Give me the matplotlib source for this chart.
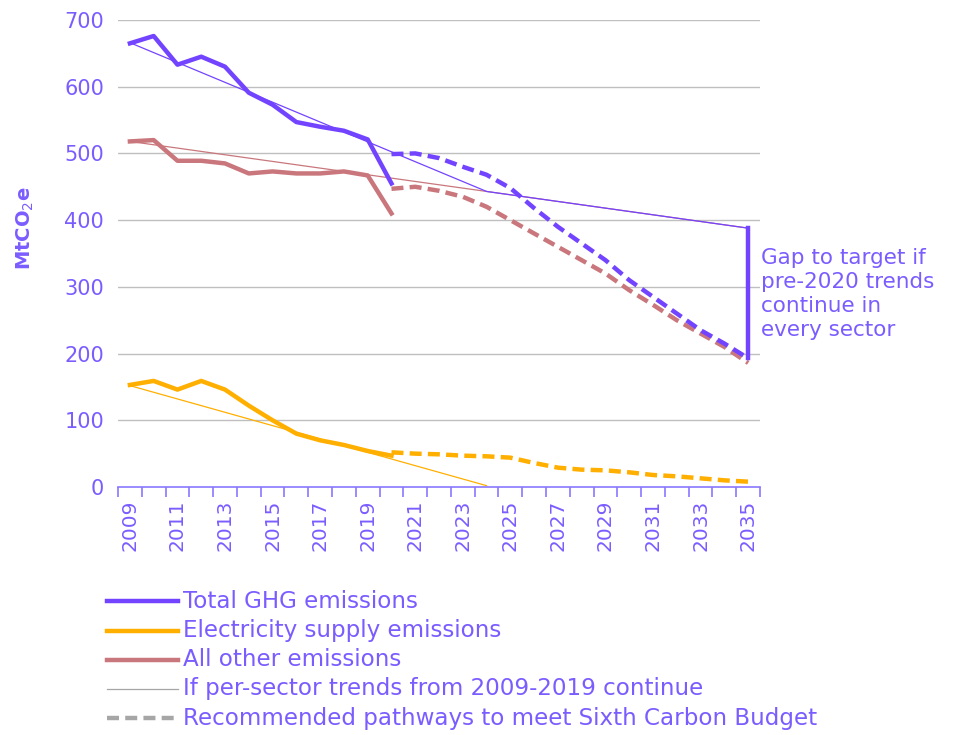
import matplotlib.pyplot as plt
from matplotlib.lines import Line2D
import numpy as np

plt.rcParams['font.family'] = ['DejaVu Sans']

# colours
purple = '#7344FF'
text_purple = '#7B5CFF'
orange = '#FFAF00'
pink = '#C9777C'
grey = '#A6A6A6'

# historic emissions (MtCO2e)
hist_years = list(range(2009, 2021))
total_hist = [665, 676, 633, 645, 630, 591, 573, 547, 540, 534, 521, 455]
elec_hist = [153, 159, 146, 159, 146, 122, 100, 80, 70, 63, 54, 47]
other_hist = [518, 520, 489, 489, 485, 470, 473, 470, 470, 473, 467, 410]

# recommended pathways
path_years = list(range(2020, 2036))
total_path = [499, 500, 493, 480, 468, 448, 418, 390, 365, 340, 310, 285, 260, 235, 215, 193]
elec_path = [52, 50, 49, 47, 46, 44, 36, 29, 26, 25, 22, 18, 16, 13, 10, 8]
other_path = [447, 450, 444, 435, 420, 400, 380, 360, 340, 320, 295, 273, 250, 230, 210, 186]

# per-sector trend lines (knots)
trend_years = [2009, 2024, 2035]
total_trend = [666, 443, 388]
elec_trend_years = [2009, 2024]
elec_trend = [152, 2]
other_trend = [518, 443, 388]

fig = plt.figure(figsize=(9.54, 7.35), dpi=100)
ax = fig.add_axes([0.1237, 0.3374, 0.673, 0.6354])

# gridlines
for v in range(100, 701, 100):
    ax.axhline(v, color='#BFBFBF', lw=1.0, zorder=0)

# trends
ax.plot(trend_years, other_trend, color=pink, lw=0.9, zorder=2)
ax.plot(elec_trend_years, elec_trend, color=orange, lw=0.9, zorder=2)
ax.plot(trend_years, total_trend, color=purple, lw=0.9, zorder=2)

# historic
ax.plot(hist_years, other_hist, color=pink, lw=3.2, zorder=3)
ax.plot(hist_years, elec_hist, color=orange, lw=3.2, zorder=3)
ax.plot(hist_years, total_hist, color=purple, lw=3.2, zorder=3)

# pathways
ax.plot(path_years, other_path, color=pink, lw=3.2, dashes=(2.7, 1.4), zorder=3)
ax.plot(path_years, elec_path, color=orange, lw=3.2, dashes=(2.7, 1.4), zorder=3)
ax.plot(path_years, total_path, color=purple, lw=3.2, dashes=(2.7, 1.4), zorder=3)

# gap bar
ax.plot([2035, 2035], [total_trend[-1], total_path[-1]], color=purple, lw=3.2, zorder=4)
ax.text(2035.55, 289, 'Gap to target if\npre-2020 trends\ncontinue in\nevery sector',
        color=text_purple, fontsize=15.5, va='center', ha='left', linespacing=1.25,
        clip_on=False)

ax.set_xlim(2008.5, 2035.5)
ax.set_ylim(0, 700)

for s in ['left', 'right', 'top']:
    ax.spines[s].set_visible(False)
ax.spines['bottom'].set_color('#8A78FF')
ax.spines['bottom'].set_linewidth(1.2)

ax.set_yticks(range(0, 701, 100))
ax.tick_params(axis='y', length=0, pad=10, labelsize=15, labelcolor=text_purple)

ax.set_xticks(range(2009, 2036, 2))
ax.set_xticks(np.arange(2008.5, 2036, 1), minor=True)
ax.tick_params(axis='x', which='major', length=0, pad=9, labelsize=14.5,
               labelcolor=text_purple, labelrotation=90)
ax.tick_params(axis='x', which='minor', length=7, width=1.2, color='#8A78FF')

ax.set_ylabel('MtCO$_2$e', color=text_purple, fontsize=14, fontweight='bold')
ax.yaxis.set_label_coords(-0.128, 0.555)

# legend drawn by hand under the chart
legend_items = [
    ('Total GHG emissions', purple, 3.2, '-'),
    ('Electricity supply emissions', orange, 3.2, '-'),
    ('All other emissions', pink, 3.2, '-'),
    ('If per-sector trends from 2009-2019 continue', grey, 0.9, '-'),
    ('Recommended pathways to meet Sixth Carbon Budget', grey, 3.2, '--'),
]
row_y = [601, 631, 660, 689, 718]
for (label, col, lw, ls), y in zip(legend_items, row_y):
    fy = 1 - y / 735
    line = Line2D([107 / 954, 178 / 954], [fy, fy], color=col, lw=lw,
                  transform=fig.transFigure)
    if ls == '--':
        line.set_dashes((2.7, 1.4))
    fig.add_artist(line)
    fig.text(183 / 954, fy, label, color=text_purple, fontsize=16.6, va='center', ha='left')

fig.savefig('out.png', dpi=100)
